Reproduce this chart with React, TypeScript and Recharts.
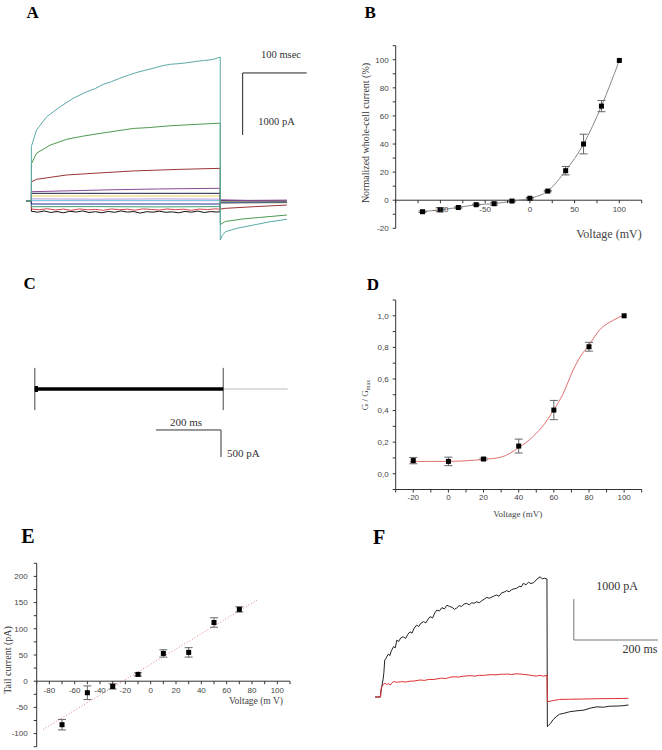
import React from 'react';
import { LineChart, ComposedChart, Line, Scatter, ErrorBar, XAxis, YAxis, ReferenceLine } from 'recharts';

const serif = '"Liberation Serif", "Times New Roman", serif';
const sans = '"Liberation Sans", Arial, sans-serif';

// ---- A: whole-cell current traces (ms, pA)
const aTeal = [[-8, 0], [0, 0], [0, 880], [8, 1145], [24, 1360], [45, 1520], [65, 1655], [87, 1765], [100, 1815], [112, 1880], [125, 1925], [138, 1980], [152, 2030], [165, 2075], [178, 2110], [190, 2140], [204, 2180], [217, 2205], [230, 2215], [243, 2230], [256, 2250], [269, 2265], [282, 2280], [295, 2320], [295, -630], [298, -560], [303, -495], [321, -440], [347, -387], [373, -334], [399, -295]];
const aGreen = [[-8, 0], [0, 0], [0, 600], [8, 770], [29, 900], [55, 995], [80, 1045], [107, 1090], [133, 1130], [159, 1170], [185, 1185], [212, 1210], [238, 1225], [264, 1240], [295, 1255], [295, -380], [303, -330], [330, -290], [360, -262], [399, -226]];
const aBrown = [[-8, 0], [0, 0], [0, 310], [8, 350], [55, 420], [110, 455], [159, 485], [230, 510], [295, 527], [295, -130], [303, -118], [347, -92], [399, -65]];
const aPurple = [[-8, 0], [0, 0], [0, 150], [60, 165], [120, 180], [200, 195], [295, 205], [295, 20], [340, 10], [399, 15]];
const aDark = [[-8, 0], [0, 0], [0, 124], [295, 124], [295, 5], [399, 0]];
const aYellow = [[-8, 0], [0, 0], [0, 81], [295, 81], [295, 0], [399, 0]];
const aLavender = [[-8, 0], [0, 0], [0, 35], [100, 30], [200, 34], [295, 30], [295, -5], [399, -5]];
const aCyan = [[-8, 0], [0, 0], [0, 10], [295, 10], [295, -10], [399, -8]];
const aNavy = [[-8, 0], [0, 0], [0, -48], [295, -48], [295, -15], [399, -12]];
const aSea = [[-8, 0], [0, 0], [0, -92], [100, -90], [200, -95], [295, -90], [295, -20], [399, -18]];
const aRed = [[-8, 0], [0, 0], [0, -130], [12, -140], [25, -125], [38, -145], [50, -130], [62, -150], [75, -128], [88, -142], [100, -135], [112, -150], [125, -128], [138, -140], [150, -132], [162, -148], [175, -126], [188, -138], [200, -145], [212, -128], [225, -140], [238, -132], [250, -150], [262, -130], [275, -138], [288, -126], [295, -135], [295, -25], [399, -22]];
const aBlack = [[-8, 0], [0, 0], [0, -165], [10, -180], [20, -160], [30, -185], [40, -170], [50, -190], [60, -165], [70, -178], [80, -160], [90, -185], [100, -172], [110, -190], [120, -168], [130, -182], [140, -160], [150, -178], [160, -170], [170, -195], [180, -172], [190, -180], [200, -165], [210, -182], [220, -175], [230, -190], [240, -168], [250, -180], [260, -162], [270, -185], [280, -170], [290, -178], [295, -172], [295, -30], [399, -25]];
const aPink = [[-8, 0], [0, 0], [0, 5], [295, 5], [295, -5], [320, -10], [340, -2], [360, -12], [380, -4], [399, -8]];
const aScaleX = [[330, 2065], [430, 2065]];
const aScaleY = [[330, 2065], [330, 1065]];

// ---- C: no current (ms, pA)
const cTrace = [[0, 0], [580, 0]];
const cOnset = [[0, 0], [10, 0]];
const cTransOn = [[0, 0], [0, 390], [0, -390], [0, 0]];
const cTransOff = [[580, 0], [580, 390], [580, -390], [580, 0]];
const cTail = [[580, 0], [778, 0]];
const cScaleX = [[373, -758], [573, -758]];
const cScaleY = [[573, -758], [573, -1258]];

// ---- F: control vs treated (ms, pA)
const fBlack = [[-13, 0], [0, 0], [1, 120], [3, 250], [6, 420], [8, 590], [10, 900], [13, 940], [15, 985], [19, 1050], [22, 1010], [26, 1130], [31, 1230], [35, 1200], [39, 1390], [43, 1350], [48, 1440], [54, 1470], [60, 1430], [65, 1530], [70, 1590], [75, 1560], [80, 1680], [86, 1755], [91, 1720], [96, 1800], [102, 1840], [108, 1810], [113, 1900], [118, 1960], [124, 1930], [129, 2050], [134, 2120], [140, 2100], [146, 2180], [152, 2150], [158, 2240], [164, 2210], [170, 2190], [176, 2140], [181, 2170], [187, 2230], [193, 2210], [199, 2270], [205, 2285], [211, 2250], [217, 2300], [223, 2290], [229, 2325], [235, 2300], [241, 2350], [247, 2390], [253, 2430], [259, 2410], [265, 2440], [271, 2470], [276, 2490], [282, 2460], [288, 2540], [294, 2560], [300, 2595], [306, 2570], [312, 2620], [318, 2640], [324, 2655], [330, 2700], [335, 2690], [340, 2775], [346, 2740], [352, 2800], [358, 2770], [364, 2790], [370, 2850], [375, 2900], [380, 2935], [385, 2880], [390, 2900], [396, 2880], [397, -725], [400, -690], [405, -640], [410, -560], [418, -480], [426, -420], [436, -400], [450, -360], [465, -340], [484, -320], [500, -270], [515, -240], [530, -250], [545, -225], [563, -220], [575, -215], [590, -195]];
const fRed = [[-13, 0], [0, 0], [1, 180], [3, 250], [7, 310], [11, 335], [15, 300], [19, 330], [23, 290], [27, 340], [31, 375], [40, 360], [50, 375], [60, 365], [70, 385], [80, 390], [94, 415], [105, 405], [115, 430], [125, 425], [134, 440], [145, 460], [155, 450], [165, 480], [173, 495], [185, 485], [195, 505], [205, 515], [213, 520], [225, 510], [235, 530], [245, 525], [253, 537], [265, 545], [275, 540], [285, 555], [292, 554], [302, 560], [312, 548], [322, 565], [332, 561], [342, 550], [352, 540], [362, 518], [372, 512], [380, 530], [388, 505], [396, 537], [397, -115], [405, -100], [415, -80], [426, -60], [450, -55], [480, -50], [520, -42], [560, -38], [590, -32]];
const fScaleY = [[460, 2391], [460, 1391]];
const fScaleX = [[460, 1391], [660, 1391]];

// ---- B: normalized I-V
const bVoltage = [-120, -100, -80, -60, -40, -20, 0, 20, 40, 60, 80, 100];
const bCurrent = [-8.2, -6.8, -5.2, -3.2, -2.5, -0.6, 1.4, 6.5, 21, 40, 67, 99.5];
const bError = [0.5, 1.5, 0.5, 0.5, 1, 0.5, 0.5, 0.5, 3, 7, 4, 0];
const bXTicks = [-150, -125, -100, -75, -50, -25, 0, 25, 50, 75, 100, 125];
const bXLabels = [-100, -50, 0, 50, 100];
const bYTicks = [-20, -10, 0, 10, 20, 30, 40, 50, 60, 70, 80, 90, 100, 110];
const bYLabels = [-20, 0, 20, 40, 60, 80, 100];

// ---- D: conductance
const dVoltage = [-20, 0, 20, 40, 60, 80, 100];
const dG = [0.083, 0.078, 0.093, 0.175, 0.403, 0.804, 1.0];
const dError = [0.02, 0.027, 0.006, 0.044, 0.061, 0.028, 0];
const dFitV = [-22, -10, 0, 10, 20, 30, 40, 48, 55, 60, 65, 71, 75, 80, 86, 94, 100];
const dFitG = [0.078, 0.078, 0.078, 0.082, 0.091, 0.105, 0.165, 0.234, 0.32, 0.405, 0.5, 0.657, 0.74, 0.815, 0.91, 0.973, 1.005];
const dXTicks = [-30, -20, -10, 0, 10, 20, 30, 40, 50, 60, 70, 80, 90, 100, 110];
const dXLabels = [-20, 0, 20, 40, 60, 80, 100];
const dYTicks = [-0.1, 0, 0.1, 0.2, 0.3, 0.4, 0.5, 0.6, 0.7, 0.8, 0.9, 1.0, 1.1];
const dYLabels = [0, 0.2, 0.4, 0.6, 0.8, 1.0];

// ---- E: tail current
const eVoltage = [-70, -50, -30, -10, 10, 30, 50, 70];
const eCurrent = [-83, -22, -10, 13, 53, 55, 112, 137];
const eError = [10, 13, 5, 3, 7, 9, 9, 5];
const eFitV = [-85, 84];
const eFitI = [-92, 155];
const eXTicks = [-90, -80, -70, -60, -50, -40, -30, -20, -10, 0, 10, 20, 30, 40, 50, 60, 70, 80, 90, 100, 110];
const eXLabels = [-80, -60, -40, -20, 0, 20, 40, 60, 80, 100];
const eYTicks = [-125, -100, -75, -50, -25, 0, 25, 50, 75, 100, 125, 150, 175, 200, 225];
const eYLabels = [-100, -50, 0, 50, 100, 150, 200];

const pts = (arr: number[][]) => arr.map(([t, v]) => ({ t, v }));
const zip = (xs: number[], ys: number[], es?: number[]) => xs.map((x, i) => ({ x, y: ys[i], err: es ? es[i] : 0 }));

function Txt({ x, y, size, children, anchor = 'middle', rotate = false, bold = false, color = '#222', font = serif }: any) {
  const tx = anchor === 'middle' ? '-50%' : anchor === 'end' ? '-100%' : '0';
  return (
    <div style={{ position: 'absolute', left: x, top: y, fontSize: size, lineHeight: 1, fontFamily: font, fontWeight: bold ? 'bold' : 'normal', color, whiteSpace: 'nowrap', transform: `translate(${tx}, -50%)${rotate ? ' rotate(-90deg)' : ''}` }}>
      {children}
    </div>
  );
}

interface Trace { data: number[][]; color: string; width?: number }

function Traces({ left, top, width, height, xDomain, yDomain, traces }: { left: number; top: number; width: number; height: number; xDomain: number[]; yDomain: number[]; traces: Trace[] }) {
  return (
    <div style={{ position: 'absolute', left, top }}>
      <LineChart width={width} height={height} margin={{ top: 0, right: 0, bottom: 0, left: 0 }}>
        <XAxis hide type="number" dataKey="t" domain={xDomain} allowDataOverflow />
        <YAxis hide type="number" domain={yDomain} allowDataOverflow />
        {traces.map((tr, i) => (
          <Line key={i} data={pts(tr.data)} dataKey="v" type="linear" stroke={tr.color} strokeWidth={tr.width ?? 1} dot={false} isAnimationActive={false} />
        ))}
      </LineChart>
    </div>
  );
}

const square = (props: any) => <rect x={props.cx - 2.5} y={props.cy - 2.5} width={5} height={5} fill="#000" />;

// x ticks drawn on the y = 0 line instead of the bottom of the plot
const zeroTick = (shift: number, labels: number[]) => (props: any) => {
  const { x, y, payload } = props;
  const yy = y - shift;
  return (
    <g>
      <line x1={x} x2={x} y1={yy} y2={yy + 3} stroke="#333" />
      {labels.includes(payload.value) && (
        <text x={x} y={yy + 12} textAnchor="middle" fontSize={8} fill="#444" fontFamily={sans}>{payload.value}</text>
      )}
    </g>
  );
};

const tickStyle = { fontSize: 8, fill: '#444', fontFamily: sans };

export default function App() {
  const bData = zip(bVoltage, bCurrent, bError);
  const dData = zip(dVoltage, dG, dError);
  const dFit = zip(dFitV, dFitG);
  const eData = zip(eVoltage, eCurrent, eError);
  const eFit = zip(eFitV, eFitI);

  return (
    <div style={{ position: 'absolute', left: 0, top: 0, width: 662, height: 750, background: '#fff', overflow: 'hidden' }}>
      {/* A */}
      <Txt x={32.7} y={11.7} size={17} bold color="#000">A</Txt>
      <Traces left={25} top={45} width={290} height={205} xDomain={[-10, 443]} yDomain={[-790, 2516]} traces={[
        { data: aPink, color: '#e070c0' },
        { data: aBlack, color: '#111' },
        { data: aRed, color: '#d04848' },
        { data: aSea, color: '#40a080' },
        { data: aNavy, color: '#1f2f9a' },
        { data: aCyan, color: '#70d0e8' },
        { data: aLavender, color: '#b8a0e0' },
        { data: aYellow, color: '#e8d060' },
        { data: aDark, color: '#1a1a40' },
        { data: aPurple, color: '#8a4a9a' },
        { data: aBrown, color: '#9a3434' },
        { data: aGreen, color: '#4f9a50' },
        { data: aTeal, color: '#5aa9a9' },
        { data: aScaleX, color: '#222' },
        { data: aScaleY, color: '#222' },
      ]} />
      <Txt x={281} y={55} size={10.5} color="#333">100 msec</Txt>
      <Txt x={276.5} y={122} size={10.5} color="#333">1000 pA</Txt>

      {/* B */}
      <Txt x={370.2} y={11.7} size={17} bold color="#000">B</Txt>
      <div style={{ position: 'absolute', left: 330, top: 30 }}>
        <ComposedChart width={332} height={225} margin={{ top: 15.7, right: 20.3, bottom: 6.7, left: 35.7 }}>
          <XAxis type="number" dataKey="x" domain={[-150, 125]} ticks={bXTicks} interval={0} height={20} axisLine={false} tickLine={false} tickSize={0} tickMargin={0} tick={zeroTick(182.6 * 20 / 130, bXLabels)} allowDataOverflow />
          <YAxis type="number" domain={[-20, 110]} ticks={bYTicks} interval={0} width={30} tickSize={3} tickMargin={4} stroke="#333" tick={tickStyle} tickFormatter={(v: number) => (bYLabels.includes(v) ? String(v) : '')} allowDataOverflow />
          <ReferenceLine y={0} stroke="#333" />
          <Line data={bData} dataKey="y" type="monotone" stroke="#888" strokeWidth={1} dot={false} isAnimationActive={false} />
          <Scatter data={bData} dataKey="y" shape={square} isAnimationActive={false}>
            <ErrorBar dataKey="err" direction="y" width={4} stroke="#666" strokeWidth={1} />
          </Scatter>
        </ComposedChart>
      </div>
      <Txt x={641.7} y={234} size={12} anchor="end" color="#444">Voltage (mV)</Txt>
      <Txt x={365.5} y={132.5} size={10} rotate color="#333">Normalized whole-cell current (%)</Txt>

      {/* C */}
      <Txt x={29.7} y={283.3} size={17} bold color="#000">C</Txt>
      <Traces left={25} top={355} width={275} height={110} xDomain={[-30, 816]} yDomain={[-1406, 629]} traces={[
        { data: cTail, color: '#bbb' },
        { data: cTransOn, color: '#777' },
        { data: cTransOff, color: '#777' },
        { data: cTrace, color: '#000', width: 3.5 },
        { data: cOnset, color: '#000', width: 6 },
        { data: cScaleX, color: '#333' },
        { data: cScaleY, color: '#333' },
      ]} />
      <Txt x={186} y={422} size={11} color="#333">200 ms</Txt>
      <Txt x={227} y={453} size={11} anchor="start" color="#333">500 pA</Txt>

      {/* D */}
      <Txt x={373} y={283.5} size={17} bold color="#000">D</Txt>
      <div style={{ position: 'absolute', left: 330, top: 290 }}>
        <ComposedChart width={332} height={215} margin={{ top: 10, right: 20.3, bottom: 0.5, left: 35.7 }}>
          <XAxis type="number" dataKey="x" domain={[-30, 110]} ticks={dXTicks} interval={0} height={15} tickSize={3} tickMargin={2} stroke="#333" tick={tickStyle} tickFormatter={(v: number) => (dXLabels.includes(v) ? String(v) : '')} allowDataOverflow />
          <YAxis type="number" domain={[-0.1, 1.1]} ticks={dYTicks} interval={0} width={30} tickSize={3} tickMargin={4} stroke="#333" tick={tickStyle} tickFormatter={(v: number) => (dYLabels.some((l) => Math.abs(l - v) < 1e-6) ? v.toFixed(1).replace('.', ',') : '')} allowDataOverflow />
          <Line data={dFit} dataKey="y" type="monotone" stroke="#e07070" strokeWidth={1} dot={false} isAnimationActive={false} />
          <Scatter data={dData} dataKey="y" shape={square} isAnimationActive={false}>
            <ErrorBar dataKey="err" direction="y" width={4} stroke="#666" strokeWidth={1} />
          </Scatter>
        </ComposedChart>
      </div>
      <Txt x={517.7} y={514} size={9} color="#444">Voltage (mV)</Txt>
      <Txt x={366} y={395} size={9} rotate color="#444">G / G<sub style={{ fontSize: 6 }}>max</sub></Txt>

      {/* E */}
      <Txt x={27.8} y={536.3} size={20} bold color="#000">E</Txt>
      <div style={{ position: 'absolute', left: 0, top: 550 }}>
        <ComposedChart width={300} height={200} margin={{ top: 13.3, right: 10, bottom: 0.3, left: 6.7 }}>
          <XAxis type="number" dataKey="x" domain={[-90, 110]} ticks={eXTicks} interval={0} height={3} axisLine={false} tickLine={false} tickSize={0} tickMargin={0} tick={zeroTick(183.4 * 125 / 350, eXLabels)} allowDataOverflow />
          <YAxis type="number" domain={[-125, 225]} ticks={eYTicks} interval={0} width={30} tickSize={3} tickMargin={6} stroke="#333" tick={tickStyle} tickFormatter={(v: number) => (eYLabels.includes(v) ? String(v) : '')} allowDataOverflow />
          <ReferenceLine y={0} stroke="#333" />
          <Line data={eFit} dataKey="y" type="linear" stroke="#e08080" strokeWidth={1} strokeDasharray="1 2" dot={false} isAnimationActive={false} />
          <Scatter data={eData} dataKey="y" shape={square} isAnimationActive={false}>
            <ErrorBar dataKey="err" direction="y" width={4} stroke="#666" strokeWidth={1} />
          </Scatter>
        </ComposedChart>
      </div>
      <Txt x={283} y={702} size={9.5} anchor="end" color="#444">Voltage (m V)</Txt>
      <Txt x={7.5} y={660} size={10} rotate color="#333">Tail current (pA)</Txt>

      {/* F */}
      <Txt x={379} y={537} size={20} bold color="#000">F</Txt>
      <Traces left={370} top={570} width={290} height={170} xDomain={[-25, 665]} yDomain={[-1050, 3100]} traces={[
        { data: fBlack, color: '#222' },
        { data: fRed, color: '#e03030' },
        { data: fScaleY, color: '#777' },
        { data: fScaleX, color: '#777' },
      ]} />
      <Txt x={617} y={586} size={12} color="#333">1000 pA</Txt>
      <Txt x={640} y={649} size={12} color="#333">200 ms</Txt>
    </div>
  );
}
